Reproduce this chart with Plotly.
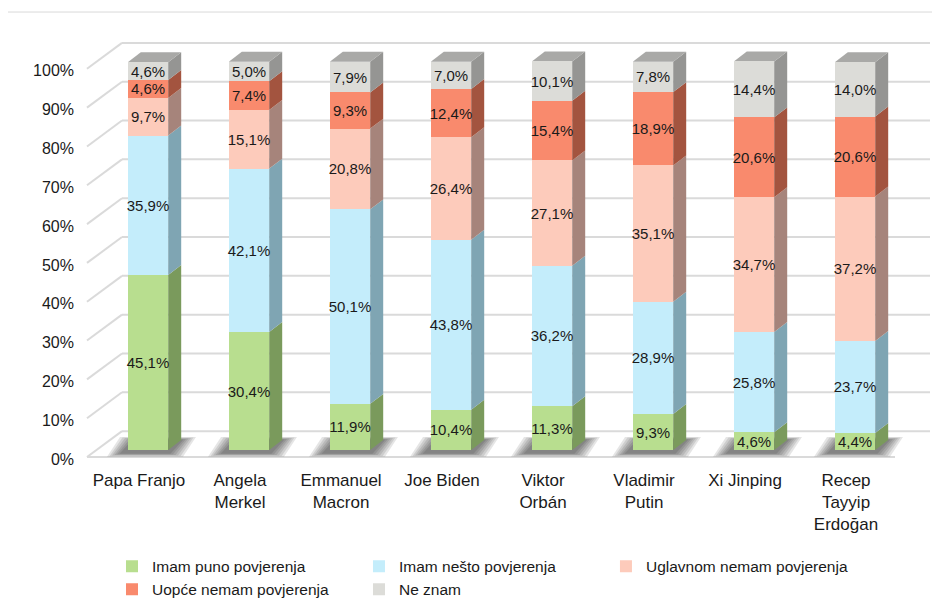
import plotly.graph_objects as go

# ---- data -------------------------------------------------------------
leaders = ["Papa Franjo", "Angela<br>Merkel", "Emmanuel<br>Macron", "Joe Biden",
           "Viktor<br>Orbán", "Vladimir<br>Putin", "Xi Jinping",
           "Recep<br>Tayyip<br>Erdoğan"]

puno = [45.1, 30.4, 11.9, 10.4, 11.3, 9.3, 4.6, 4.4]
nesto = [35.9, 42.1, 50.1, 43.8, 36.2, 28.9, 25.8, 23.7]
uglavnom = [9.7, 15.1, 20.8, 26.4, 27.1, 35.1, 34.7, 37.2]
uopce = [4.6, 7.4, 9.3, 12.4, 15.4, 18.9, 20.6, 20.6]
ne_znam = [4.6, 5.0, 7.9, 7.0, 10.1, 7.8, 14.4, 14.0]

series_names = ["Imam puno povjerenja", "Imam nešto povjerenja",
                "Uglavnom nemam povjerenja", "Uopće nemam povjerenja", "Ne znam"]

y_ticks = [0, 10, 20, 30, 40, 50, 60, 70, 80, 90, 100]
y_tick_labels = [str(t) + "%" for t in y_ticks]

# ---- styling ----------------------------------------------------------
front_colors = ["#b8de8f", "#c4edfb", "#fdcbbb", "#f98a6d", "#dcdcd8"]
side_colors = ["#7a9a5c", "#7fa5b3", "#a6847b", "#a3543f", "#959593"]
top_color = "#a9a9a7"
grid_color = "#dadada"
FONT = "Liberation Sans, Arial, sans-serif"

# the page body has an 8px margin, so the figure is a bit smaller
PAGE_OFF = 8
FIG_W, FIG_H = 940 - PAGE_OFF, 612 - PAGE_OFF

# plot area in page pixels: 80..935 x 20..466
PL, PR, PT, PB = 80, 935, 20, 466

# pixel scale of the axes
PX_X = 101.0
PX_Y = 3.9
BAR_W = 0.4


def ox(px):
    return px / PX_X


def oy(px):
    # screen pixels (down is positive) -> percent units
    return -px / PX_Y


# depth offsets of the fake 3d box, relative to the bar front plane
FRONT = (ox(-9), oy(7))
DEPTH = (ox(13), oy(-10))
BACK = (ox(26), oy(-19))
LEFT_EDGE = ox(87 - 148)
LEFT_BACK = ox(122 - 148)
RIGHT_BACK = ox(930 - 148)
RIGHT_FRONT = ox(895 - 148)


def poly(points):
    return "M " + " L ".join("{:.4f},{:.4f}".format(x, y) for x, y in points) + " Z"


def add_walls(fig):
    # back wall gridlines and left wall diagonals
    for t in y_ticks:
        fig.add_shape(type="line", layer="below", xref="x", yref="y",
                      x0=LEFT_BACK, y0=t + BACK[1], x1=RIGHT_BACK, y1=t + BACK[1],
                      line=dict(color=grid_color, width=2))
        fig.add_shape(type="line", layer="below", xref="x", yref="y",
                      x0=LEFT_EDGE, y0=t + FRONT[1], x1=LEFT_BACK, y1=t + BACK[1],
                      line=dict(color=grid_color, width=2))
    # floor front edge
    fig.add_shape(type="line", layer="below", xref="x", yref="y",
                  x0=LEFT_EDGE, y0=FRONT[1], x1=RIGHT_FRONT, y1=FRONT[1],
                  line=dict(color=grid_color, width=2))
    return fig


def add_shadows(fig):
    # soft shadow on the floor, built from a few transparent layers
    for i in range(len(leaders)):
        for k in range(1, 7):
            e = 2.5 * k
            pts = [(i + ox(-20 - e - 6), oy(3 + e * 0.25)),
                   (i + ox(20 + e), oy(3 + e * 0.25)),
                   (i + ox(33 + e), oy(-10 - e * 0.2)),
                   (i + ox(-7 - e - 6), oy(-10 - e * 0.2))]
            fig.add_shape(type="path", layer="below", xref="x", yref="y",
                          path=poly(pts), fillcolor="rgba(0,0,0,0.10)",
                          line=dict(width=0))
    return fig


def add_box_faces(fig, stacks):
    dx, dy = DEPTH
    for i in range(len(leaders)):
        base = 0.0
        for j, values in enumerate(stacks):
            top = base + values[i]
            xr = i + BAR_W / 2
            pts = [(xr, base), (xr + dx, base + dy), (xr + dx, top + dy), (xr, top)]
            fig.add_shape(type="path", layer="below", xref="x", yref="y",
                          path=poly(pts), fillcolor=side_colors[j],
                          line=dict(width=0))
            base = top
        xl = i - BAR_W / 2
        pts = [(xl, base), (xl + BAR_W, base), (xl + BAR_W + dx, base + dy), (xl + dx, base + dy)]
        fig.add_shape(type="path", layer="below", xref="x", yref="y",
                      path=poly(pts), fillcolor=top_color, line=dict(width=0))
    return fig


def get_figure():
    stacks = [puno, nesto, uglavnom, uopce, ne_znam]
    x = list(range(len(leaders)))

    fig = go.Figure()
    fig = add_walls(fig)
    fig = add_shadows(fig)
    fig = add_box_faces(fig, stacks)

    for j, values in enumerate(stacks):
        fig.add_trace(go.Bar(
            x=x, y=values, name=series_names[j], width=BAR_W,
            marker=dict(color=front_colors[j], line=dict(width=0)),
            text=["{:.1f}%".format(v).replace(".", ",") for v in values],
            textposition="inside", insidetextanchor="middle",
            constraintext="none", textangle=0,
            textfont=dict(family=FONT, size=15, color="#1a1a1a"),
            hoverinfo="skip"))

    pw, ph = PR - PL, PB - PT

    # outer frame
    fig.add_shape(type="rect", xref="paper", yref="paper",
                  x0=(4 - PL) / pw, x1=1.2, y0=-0.6, y1=(PB - 12) / ph,
                  line=dict(color="#d9d9d9", width=1), layer="below")

    fig.update_layout(
        width=FIG_W, height=FIG_H, autosize=False,
        margin=dict(l=PL - PAGE_OFF, r=FIG_W - (PR - PAGE_OFF), t=PT - PAGE_OFF,
                    b=FIG_H - (PB - PAGE_OFF), pad=0),
        barmode="stack",
        paper_bgcolor="white", plot_bgcolor="white",
        font=dict(family=FONT, size=16, color="#1a1a1a"),
        xaxis=dict(range=[ox(PL - 148), ox(PR - 148)],
                   tickvals=[i + FRONT[0] for i in x], ticktext=leaders,
                   showgrid=False, zeroline=False, showline=False, ticks="",
                   ticklabelstandoff=4, tickfont=dict(size=17)),
        yaxis=dict(range=[oy(PB - 452), oy(PT - 452)],
                   tickvals=[t + FRONT[1] + oy(2) for t in y_ticks], ticktext=y_tick_labels,
                   showgrid=False, zeroline=False, showline=False, ticks="",
                   ticklabelstandoff=5, tickfont=dict(size=16)),
        legend=dict(orientation="h", x=(112 - PL) / pw, y=(PB - 552) / ph,
                    xanchor="left", yanchor="top", traceorder="normal",
                    font=dict(size=15.5), itemclick=False),
        showlegend=True,
    )
    return fig


fig = get_figure()
fig.write_html("out.html")
